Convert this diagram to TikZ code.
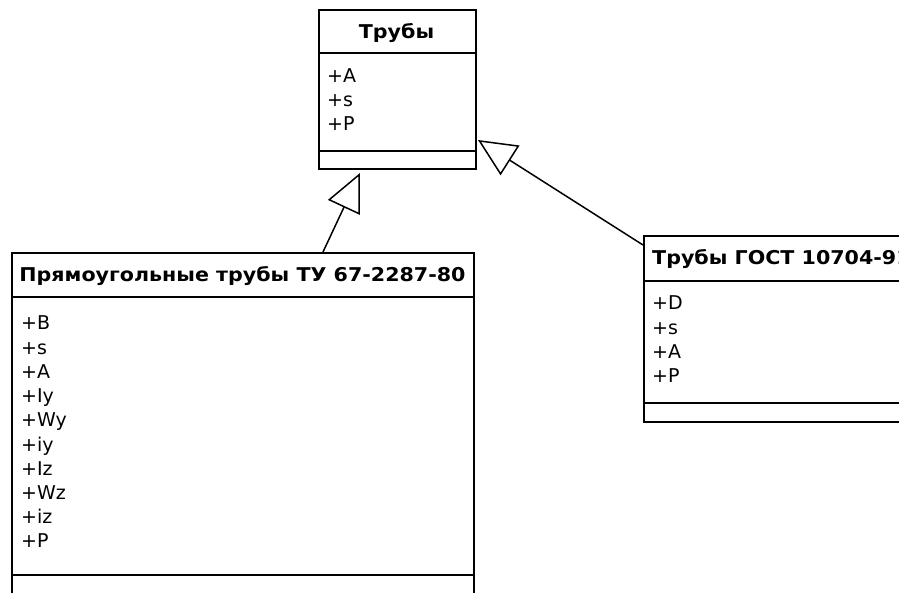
\documentclass[tikz,border=0pt]{standalone}
\usepackage{fontspec}
\setmainfont{DejaVu Sans}
\newfontfamily\headfont{DejaVu Sans}[FakeStretch=1.085]
\usetikzlibrary{arrows.meta}
\begin{document}
\begin{tikzpicture}[x=1pt,y=-1pt,
  box/.style={draw,line width=1.7pt,inner sep=0pt},
  sep/.style={line width=1.7pt},
  attr/.style={anchor=base west,inner sep=0pt,font=\fontsize{19}{22}\selectfont},
  head/.style={inner sep=0pt,font=\fontsize{19}{22}\headfont\bfseries},
  inh/.style={line width=1.5pt,-{Triangle[open,length=38pt,width=35pt,line width=1.5pt]}}]
\useasboundingbox (0,0) rectangle (899,593);
\clip (0,0) rectangle (899,593);
% top class
\node[box,minimum width=157pt,minimum height=159pt,anchor=north west] (T) at (318,9) {};
\draw[sep] (318,53) -- (477,53);
\draw[sep] (318,151) -- (475,151);
\node[head,anchor=base] (Th) at (396.5,39) {Трубы};
\foreach \t [count=\i] in {+A,+s,+P}
  \node[attr] (Ta\i) at (327,83+24*\i-24) {\t};
% left class
\node[box,minimum width=462pt,minimum height=360pt,anchor=north west] (L) at (11,252) {};
\draw[sep] (11,297) -- (475,297);
\draw[sep] (11,575) -- (475,575);
\node[head,anchor=base] (Lh) at (242.5,282) {Прямоугольные трубы ТУ 67-2287-80};
\foreach \t [count=\i] in {+B,+s,+A,+Iy,+Wy,+iy,+Iz,+Wz,+iz,+P}
  \node[attr] (La\i) at (21,330+24.2*\i-24.2) {\t};
% right class
\node[box,minimum width=280pt,minimum height=186pt,anchor=north west] (R) at (643,235) {};
\draw[sep] (643,281) -- (923,281);
\draw[sep] (643,403) -- (923,403);
\node[head,anchor=base west] (Rh) at (652,265) {Трубы ГОСТ 10704-91};
\foreach \t [count=\i] in {+D,+s,+A,+P}
  \node[attr] (Ra\i) at (652,310+24.2*\i-24.2) {\t};
% connectors
\coordinate (Lc) at (323,252);
\coordinate (Tl) at (360,173);
\coordinate (Rc) at (643,245);
\coordinate (Tr) at (478,140);
\draw[inh] (Lc) -- (Tl);
\draw[inh] (Rc) -- (Tr);
\end{tikzpicture}
\end{document}
